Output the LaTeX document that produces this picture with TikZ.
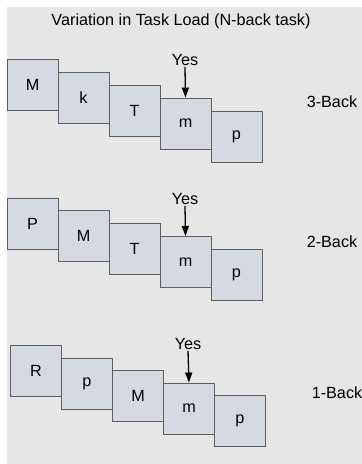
\documentclass[tikz,border=0pt]{standalone}
\usepackage{fontspec}
\setmainfont{Liberation Sans}
\usetikzlibrary{arrows.meta}
\definecolor{bggray}{HTML}{E6E6E6}
\definecolor{boxfill}{HTML}{D5DAE2}
\definecolor{boxline}{HTML}{5E5E5E}
\tikzset{
  textfont/.style={font=\fontsize{16.2}{18}\selectfont},
  letterbox/.style={draw=boxline, fill=boxfill, line width=0.9pt, minimum size=51pt, inner sep=0pt, textfont},
  yeslabel/.style={inner sep=1pt, textfont},
  backlabel/.style={inner sep=0pt, textfont},
  yesarrow/.style={line width=1.3pt, -{Triangle[length=10pt,width=7pt]}}
}
\begin{document}
\begin{tikzpicture}[x=1pt,y=-1pt]
\useasboundingbox (0,0) rectangle (362,464);
\fill[bggray] (7,7) rectangle (362,464);
\node[textfont] (title) at (181,21) {Variation in Task Load (N-back task)};
% 3-back
\node[letterbox] (a1) at (32.5,84.5) {M};
\node[letterbox] (a2) at (83.5,97.5) {k};
\node[letterbox] (a3) at (134.5,110.5) {T};
\node[letterbox] (a4) at (185.5,123.5) {m};
\node[letterbox] (a5) at (236.5,136.5) {p};
\node[yeslabel] (y1) at (185,60) {Yes};
\draw[yesarrow] (y1.south) -- (a4.north);
\node[backlabel] (l1) at (332,102) {3-Back};
% 2-back
\node[letterbox] (b1) at (32.5,223.5) {P};
\node[letterbox] (b2) at (83.5,236.3) {M};
\node[letterbox] (b3) at (134.5,249.1) {T};
\node[letterbox] (b4) at (185.5,261.9) {m};
\node[letterbox] (b5) at (236.5,274.7) {p};
\node[yeslabel] (y2) at (185,199) {Yes};
\draw[yesarrow] (y2.south) -- (b4.north);
\node[backlabel] (l2) at (332,242) {2-Back};
% 1-back
\node[letterbox] (c1) at (36,371) {R};
\node[letterbox] (c2) at (87,383.5) {p};
\node[letterbox] (c3) at (138,396) {M};
\node[letterbox] (c4) at (189,408.5) {m};
\node[letterbox] (c5) at (240,421) {p};
\node[yeslabel] (y3) at (188,344) {Yes};
\draw[yesarrow] (y3.south) -- (c4.north);
\node[backlabel] (l3) at (337,393) {1-Back};
\end{tikzpicture}
\end{document}
